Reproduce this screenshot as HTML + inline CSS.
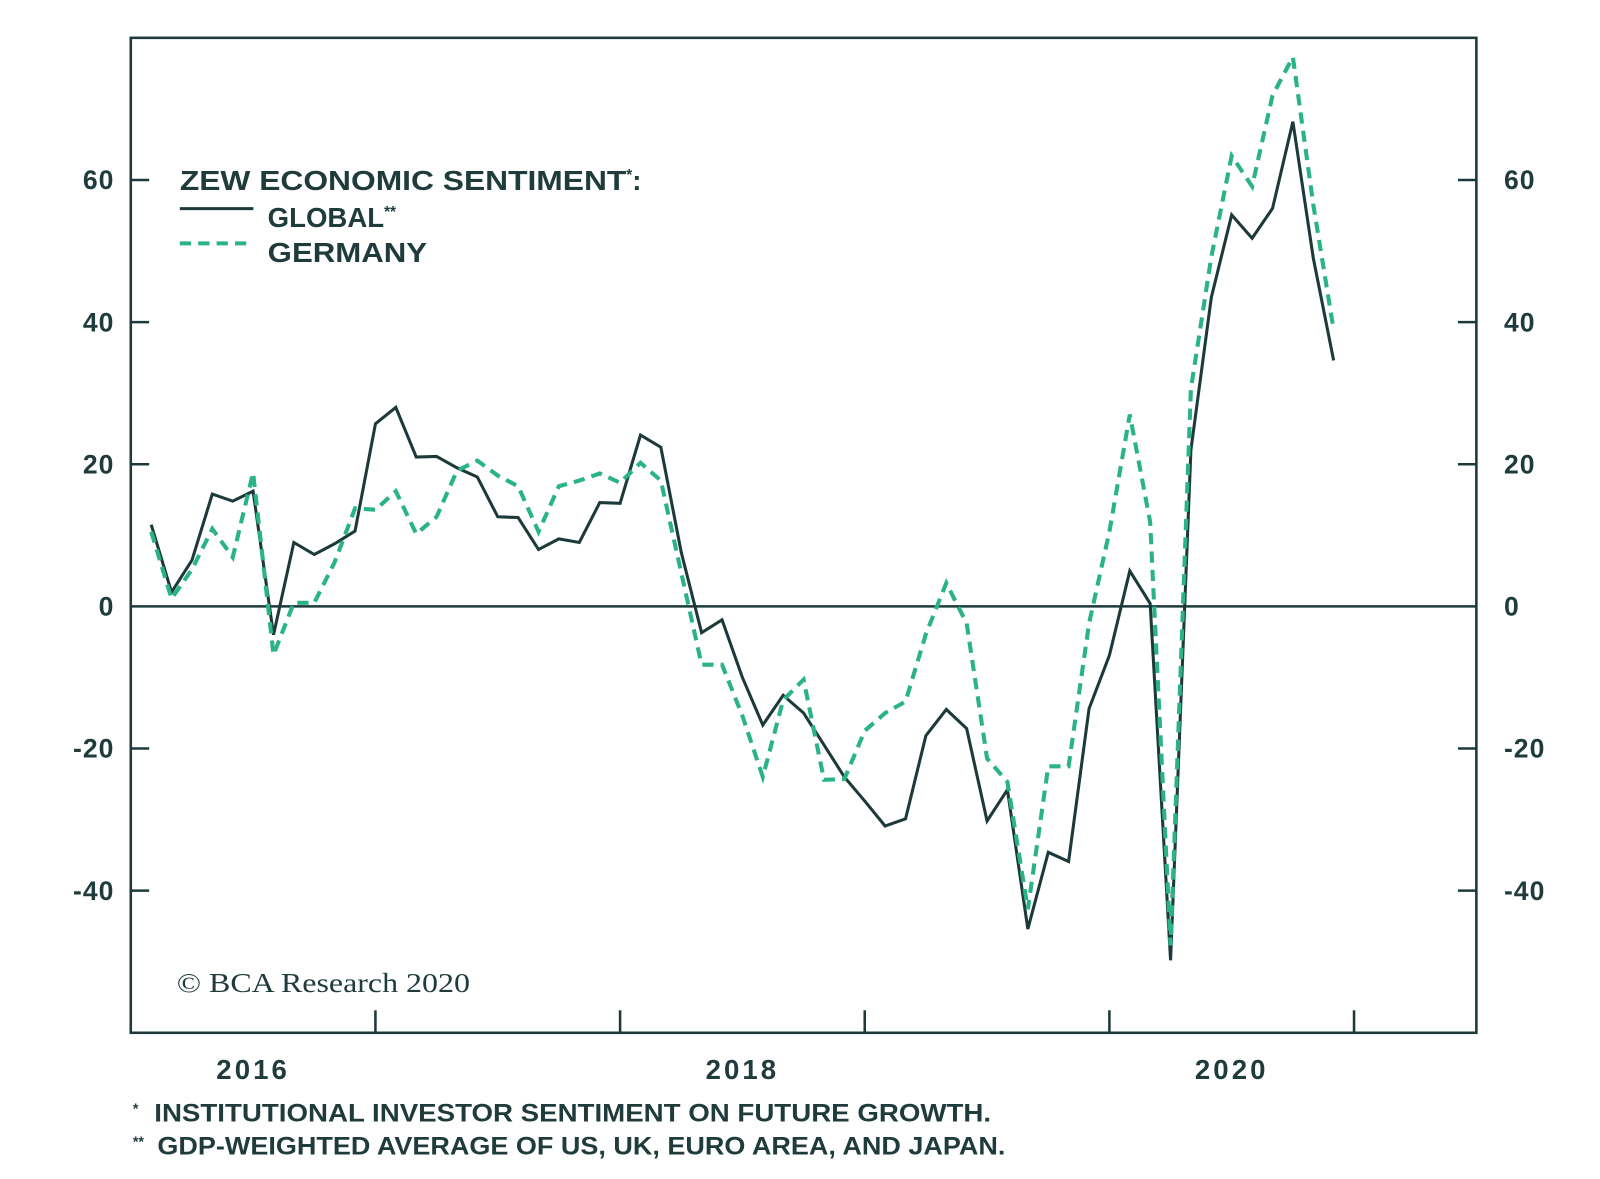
<!DOCTYPE html>
<html><head><meta charset="utf-8"><style>
html,body{margin:0;padding:0;background:#fff;}
svg{display:block;font-family:"Liberation Sans",sans-serif;}
</style></head><body>
<svg id="chart" width="1600" height="1179" viewBox="0 0 1566 1153" preserveAspectRatio="none" xmlns="http://www.w3.org/2000/svg">
<rect x="0" y="0" width="1566" height="1153" fill="#fff"/>
<g id="axes"></g>
<g id="series"></g>
<g>
<text x="176" y="186" font-size="27" font-weight="bold" fill="#1f3b3b"><tspan textLength="437" lengthAdjust="spacingAndGlyphs">ZEW ECONOMIC SENTIMENT</tspan><tspan font-size="15" dy="-10">*</tspan><tspan dy="10">:</tspan></text>
<line x1="176" y1="204" x2="248" y2="204" stroke="#1d3a3a" stroke-width="3"/>
<text x="262" y="222" font-size="27" font-weight="bold" fill="#1f3b3b">GLOBAL<tspan font-size="15" dy="-10">**</tspan></text>
<line x1="176" y1="238" x2="248" y2="238" stroke="#2ab386" stroke-width="4" stroke-dasharray="11,7"/>
<text x="262" y="256" font-size="27" font-weight="bold" fill="#1f3b3b" textLength="156" lengthAdjust="spacingAndGlyphs">GERMANY</text>
</g>
<text x="173" y="970" font-size="27" font-family="Liberation Serif, serif" fill="#1f3b3b" textLength="287" lengthAdjust="spacingAndGlyphs">© BCA Research 2020</text>
<text x="130" y="1097" font-size="24" font-weight="bold" fill="#1f3b3b"><tspan font-size="14" dy="-8">*</tspan><tspan x="151" dy="8" textLength="819" lengthAdjust="spacingAndGlyphs">INSTITUTIONAL INVESTOR SENTIMENT ON FUTURE GROWTH.</tspan></text>
<text x="130" y="1129" font-size="24" font-weight="bold" fill="#1f3b3b"><tspan font-size="14" dy="-8">**</tspan><tspan x="154" dy="8" textLength="830" lengthAdjust="spacingAndGlyphs">GDP-WEIGHTED AVERAGE OF US, UK, EURO AREA, AND JAPAN.</tspan></text>
</svg>
<script>
const yTicks = [-40, -20, 0, 20, 40, 60];
const yTickLabels = ["-40", "-20", "0", "20", "40", "60"];
const yearTicks = [2017, 2018, 2019, 2020, 2021];
const yearLabels = ["2016", "2018", "2020"];
const startMonthIndex = 1;
const globalValues = [11.5,2,6.5,15.8,14.8,16.2,-4,9,7.3,8.8,10.6,25.7,28,21,21.1,19.5,18.2,12.6,12.5,8,9.5,9,14.6,14.5,24.1,22.4,7.6,-3.7,-1.9,-10,-16.7,-12.5,-15,-19.5,-24,-27.4,-30.9,-29.9,-18.2,-14.5,-17.2,-30.2,-25.8,-45.4,-34.6,-35.9,-14.4,-6.9,5,0.4,-49.8,22,43.5,55.1,51.8,56,68.2,49,34.6];
const germanyValues = [10.5,1.1,5.2,10.9,6.9,18.8,-6.8,0.5,0.5,6.2,13.8,13.6,16.2,10.2,12.6,19.1,20.5,18.4,16.9,10.5,16.9,17.7,18.7,17.4,20.2,17.7,4.7,-8.2,-8.2,-15.4,-24,-13.2,-10.3,-24.4,-24.3,-17.5,-15,-13.4,-3.9,3.3,-2.4,-21.4,-24.7,-42.6,-22.5,-22.5,-2.4,10.5,27,11.9,-47.7,30.6,49.2,63.4,59.1,71.9,77.3,56.5,38.9];

const NS = "http://www.w3.org/2000/svg";
const L = 128, R = 1445, T = 37, B = 1010;
const yMin = -60, yMax = 80;
const xMin = 2016, xMax = 2021.5;
function yScale(v){ return B - (v - yMin) / (yMax - yMin) * (B - T); }
function xScale(t){ return L + (t - xMin) / (xMax - xMin) * (R - L); }
function xMonth(i){ return xScale(xMin + (startMonthIndex + i) / 12); }
function mk(tag, attrs, parent){
  const e = document.createElementNS(NS, tag);
  for (const k in attrs) e.setAttribute(k, attrs[k]);
  parent.appendChild(e);
  return e;
}
const axes = document.getElementById('axes');
const frame = mk('rect', {x:L, y:T, width:R-L, height:B-T, fill:'none', stroke:'#1d3a3a', 'stroke-width':2.5}, axes);


const zero = mk('line', {x1:L, x2:R, y1:yScale(0), y2:yScale(0), stroke:'#1d3a3a', 'stroke-width':2.5}, axes);


yTicks.forEach((v, i) => {
  const y = yScale(v);
  if (v !== 0) {
    const t1 = mk('line', {x1:L, x2:L+18, y1:y, y2:y, stroke:'#1d3a3a', 'stroke-width':2.5}, axes);
    
    
    const t2 = mk('line', {x1:R-18, x2:R, y1:y, y2:y, stroke:'#1d3a3a', 'stroke-width':2.5}, axes);
    
    
  }
  const lt = mk('text', {x:112, y:y+9, 'text-anchor':'end', 'font-size':26, 'font-weight':'bold', fill:'#1f3b3b', 'letter-spacing':1}, axes);
  lt.textContent = yTickLabels[i];
  
  
  const rt = mk('text', {x:1472, y:y+9, 'text-anchor':'start', 'font-size':26, 'font-weight':'bold', fill:'#1f3b3b', 'letter-spacing':1}, axes);
  rt.textContent = yTickLabels[i];
  
  
});
yearTicks.forEach(yr => {
  const x = xScale(yr);
  const t = mk('line', {x1:x, x2:x, y1:B-22, y2:B, stroke:'#1d3a3a', 'stroke-width':2.5}, axes);
  
  
});
yearLabels.forEach(lbl => {
  const x = xScale(+lbl + 0.5);
  const t = mk('text', {x:x, y:1055, 'text-anchor':'middle', 'font-size':27, 'font-weight':'bold', fill:'#1f3b3b', 'letter-spacing':3}, axes);
  t.textContent = lbl;
  
  
});
const series = document.getElementById('series');
function pts(vals){ return vals.map((v, i) => xMonth(i).toFixed(1) + ',' + yScale(v).toFixed(1)).join(' '); }
const g = mk('polyline', {points:pts(globalValues), fill:'none', stroke:'#1d3a3a', 'stroke-width':3, 'stroke-linejoin':'miter'}, series);


const de = mk('polyline', {points:pts(germanyValues), fill:'none', stroke:'#2ab386', 'stroke-width':4, 'stroke-dasharray':'11,7'}, series);


</script>
</body></html>
